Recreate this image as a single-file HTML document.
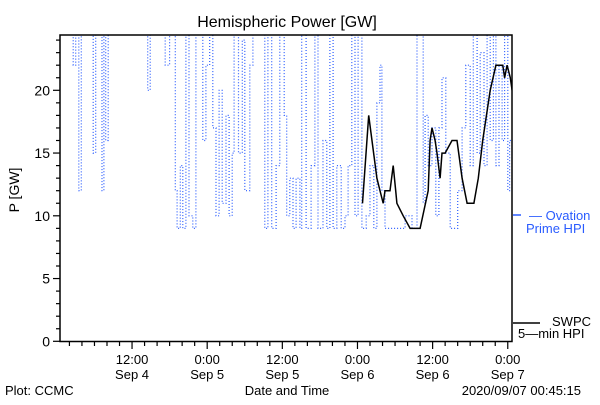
<!DOCTYPE html>
<html><head><meta charset="utf-8"><style>
body{margin:0;background:#fff;width:600px;height:400px;overflow:hidden}
svg text{font-family:"Liberation Sans",sans-serif;}
</style></head><body>
<svg id="chart" width="600" height="400" viewBox="0 0 600 400">
<defs><clipPath id="clip"><rect x="60" y="35" width="452" height="307"/></clipPath></defs>
<text x="287" y="27" font-size="16" text-anchor="middle">Hemispheric Power [GW]</text>
<text transform="translate(19,190) rotate(-90)" font-size="14" text-anchor="middle">P [GW]</text>
<text x="287" y="395" font-size="13" text-anchor="middle">Date and Time</text>
<text x="5" y="395" font-size="13">Plot: CCMC</text>
<text x="581" y="395" font-size="13" text-anchor="end">2020/09/07 00:45:15</text>
<g id="axes"></g>
<g id="series" clip-path="url(#clip)"></g>
<rect x="60" y="35" width="452" height="306.5" fill="none" stroke="#000" stroke-width="1.5"/>
<g>
<line x1="513" y1="215" x2="521" y2="215" stroke="#2a5cff" stroke-width="1.5"/>
<text x="529" y="220" font-size="13" fill="#2a5cff">— Ovation</text>
<text x="526" y="233" font-size="13" fill="#2a5cff">Prime HPI</text>
</g>
<g>
<line x1="513" y1="323" x2="540" y2="323" stroke="#000" stroke-width="1.5"/>
<text x="552" y="326" font-size="13">SWPC</text>
<text x="518" y="338" font-size="13">5—min HPI</text>
</g>
</svg>
<script>
const yTicks = [0,5,10,15,20];
const xTickHours = [12,24,36,48,60,72];
const xTickTimes = ["12:00","0:00","12:00","0:00","12:00","0:00"];
const xTickDates = ["Sep 4","Sep 5","Sep 5","Sep 6","Sep 6","Sep 7"];
const ovationHours = [0.8,2.6,3.0,3.5,3.9,5.4,5.8,6.2,7.2,7.5,7.8,8.2,10,14.5,14.9,17.3,18,18.9,19.2,19.7,20.1,20.6,21.1,21.7,22.2,22.9,23.3,23.8,24.4,24.9,25.4,25.9,26.4,27,27.5,28,28.3,29,29.6,30,30.8,31.3,32.8,33.2,33.7,34.3,35,35.6,36.3,36.7,37.2,37.7,38.2,38.8,39.1,39.8,40.6,41.2,41.7,42.5,43.1,43.6,44.1,44.7,45.4,46,46.5,47.1,47.6,48.1,48.7,49.4,50,50.6,51.1,51.6,51.9,52.4,54,55.6,56.7,57.5,58,58.5,58.8,59.3,59.9,60.5,61,61.5,62.1,62.8,63.4,64,64.7,65.3,66,66.5,67.1,67.6,68.2,68.7,69.2,69.7,70.1,70.6,71.1,71.5,72,72.3,72.7];
const ovationValues = [25,22,25,12,25,25,15,25,12,25,16,25,25,20,25,22,25,12,9,14,9,25,10,9,25,25,16,22,25,17,10,20,11,18,10,15,25,15,24,12,22,25,25,9,25,9,14,25,18,10,13,9,13,9,25,9,14,25,9,16,9,25,9,14,9,10,14,25,10,25,9,10,14,9,19,22,12,9,9,10,9,25,25,11,18,14,17,10,17,21,15,9,9,12,17,22,14,25,15,23,14,25,16,25,14,22,16,25,12,16,11];
const swpcHours = [48.8,49.8,51.1,51.6,52.1,52.4,53.2,53.7,54.1,54.3,55.3,56.4,58.0,59.3,59.6,59.9,60.4,60.7,61.2,61.5,62.0,63.1,63.9,64.7,65.5,66.6,67.3,68.0,69.2,70.1,71.2,71.5,71.9,72.4,72.7];
const swpcValues = [11,18,13,12,11,12,12,14,12,11,10,9,9,12,16,17,16,15,13,15,15,16,16,13,11,11,13,16,20,22,22,21,22,21,20];

const NS="http://www.w3.org/2000/svg";
const xs = h => 56.9 + h*6.262;
const ys = v => 341.3 - v*12.55;
const axes=document.getElementById('axes');
const series=document.getElementById('series');
function mk(tag,attrs,parent){const e=document.createElementNS(NS,tag);for(const k in attrs)e.setAttribute(k,attrs[k]);parent.appendChild(e);return e;}
for(let v=0;v<=24;v++){
  const major=v%5===0;
  const t=mk('line',{x1:major?53:56,x2:60,y1:ys(v),y2:ys(v),stroke:'#000','stroke-width':1.2},axes);
  
  
}
yTicks.forEach(v=>{
  const t=mk('text',{x:50,y:ys(v)+5,'font-size':14,'text-anchor':'end'},axes);
  t.textContent=v;
  
  
});
for(let h=2;h<=72;h+=2){
  const major=h%12===0;
  const t=mk('line',{x1:xs(h),x2:xs(h),y1:341,y2:major?349:346,stroke:'#000','stroke-width':1.2},axes);
  
  
}
xTickHours.forEach((h,i)=>{
  const t=mk('text',{x:xs(h),y:364,'font-size':13,'text-anchor':'middle'},axes);
  t.textContent=xTickTimes[i];
  
  
  const d=mk('text',{x:xs(h),y:379,'font-size':13,'text-anchor':'middle'},axes);
  d.textContent=xTickDates[i];
  
  
});
let d1='';
ovationHours.forEach((h,i)=>{
  if(i===0) d1+='M'+xs(h).toFixed(1)+','+ys(ovationValues[i]).toFixed(1);
  else d1+=' H'+xs(h).toFixed(1)+' V'+ys(ovationValues[i]).toFixed(1);
});
const l1=mk('path',{d:d1,fill:'none',stroke:'#2a5cff','stroke-width':1.2,'stroke-dasharray':'1,2'},series);


const pts2=swpcHours.map((h,i)=>xs(h).toFixed(1)+','+ys(swpcValues[i]).toFixed(1)).join(' ');
const l2=mk('polyline',{points:pts2,fill:'none',stroke:'#000','stroke-width':1.5},series);


</script>
</body></html>
